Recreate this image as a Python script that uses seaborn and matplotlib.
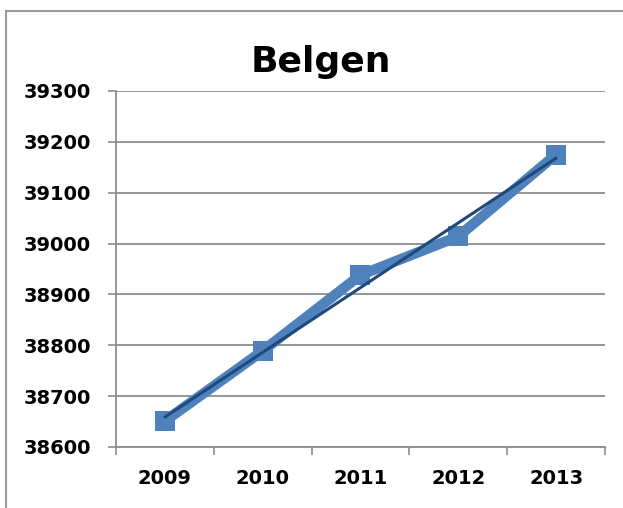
import numpy as np
import pandas as pd
import seaborn as sns
import matplotlib
matplotlib.use("Agg")
import matplotlib.pyplot as plt
from matplotlib.patches import Rectangle

years = ["2009", "2010", "2011", "2012", "2013"]
values = [38651, 38789, 38938, 39014, 39175]
y_ticks = [38600, 38700, 38800, 38900, 39000, 39100, 39200, 39300]

line_color = "#4F81BD"
trend_color = "#1F497D"
grid_color = "#8C8C8C"

sns.set_style("white")
plt.rcParams['font.family'] = ['DejaVu Sans']
plt.rcParams['text.color'] = 'black'
plt.rcParams['xtick.color'] = grid_color
plt.rcParams['ytick.color'] = grid_color
plt.rcParams['xtick.labelcolor'] = 'black'
plt.rcParams['ytick.labelcolor'] = 'black'

df = pd.DataFrame({"idx": np.arange(len(years)), "value": values})

fig = plt.figure(figsize=(6.23, 5.08), dpi=100)
ax = fig.add_axes([0.1862, 0.1201, 0.7849, 0.7008])

# outer chart frame (Excel style)
fig.patches.append(Rectangle((6 / 623, -0.1), 1.2, (508 - 11) / 508 + 0.1,
                             transform=fig.transFigure, fill=False,
                             edgecolor="#9A9A9A", linewidth=1.5))

sns.lineplot(data=df, x="idx", y="value", ax=ax, color=line_color,
             linewidth=7.5, marker="s", markersize=14, markeredgewidth=0,
             solid_joinstyle="round", solid_capstyle="round", zorder=3)

# linear trendline
sns.regplot(data=df, x="idx", y="value", ax=ax, scatter=False, ci=None,
            truncate=True, line_kws={"color": trend_color, "linewidth": 2.2,
                                     "zorder": 4, "solid_capstyle": "round"})

ax.set_xlim(-0.5, len(years) - 0.5)
ax.set_ylim(y_ticks[0], y_ticks[-1])
ax.set_yticks(y_ticks)
ax.set_yticklabels([str(t) for t in y_ticks], fontsize=14, fontweight="bold")
ax.set_xticks(df["idx"])
ax.set_xticklabels(years, fontsize=14, fontweight="bold")
ax.set_xticks(np.arange(-0.5, len(years)), minor=True)

ax.tick_params(axis="x", which="major", length=0, pad=16, bottom=True)
ax.tick_params(axis="x", which="minor", length=6, width=1.2,
               direction="out", bottom=True)
ax.tick_params(axis="y", length=6, width=1.2, pad=12,
               direction="out", left=True)

ax.yaxis.grid(True, color=grid_color, linewidth=1.3)
ax.xaxis.grid(False)
ax.set_axisbelow(True)
ax.set_xlabel("")
ax.set_ylabel("")

for side in ["top", "right"]:
    ax.spines[side].set_visible(False)
for side in ["left", "bottom"]:
    ax.spines[side].set_color(grid_color)
    ax.spines[side].set_linewidth(1.3)

fig.text(0.515, 0.878, "Belgen", ha="center", va="center",
         fontsize=26, fontweight="bold", color="black")

fig.savefig("out.png", dpi=100)
